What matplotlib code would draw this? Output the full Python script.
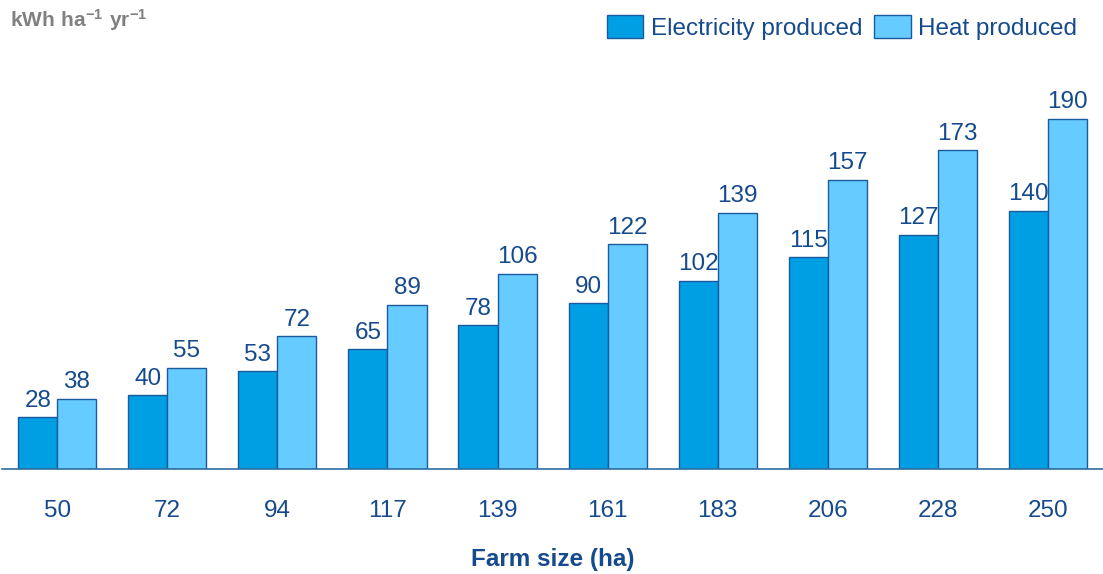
"""
Electricity and heat produced per hectare by farm size.
"""

import numpy as np
import matplotlib.pyplot as plt
from matplotlib.patches import Patch

farm_sizes = ["50", "72", "94", "117", "139", "161", "183", "206", "228", "250"]
electricity = [28, 40, 53, 65, 78, 90, 102, 115, 127, 140]
heat = [38, 55, 72, 89, 106, 122, 139, 157, 173, 190]

ELEC_COLOR = "#009fe3"
HEAT_COLOR = "#66ccff"
EDGE_COLOR = "#1b5a9c"
TEXT_COLOR = "#154a8c"
FS = 17.5

plt.rcParams["font.family"] = ["Liberation Sans", "DejaVu Sans"]
plt.rcParams["mathtext.fontset"] = "custom"
plt.rcParams["mathtext.rm"] = "Liberation Sans"
plt.rcParams["mathtext.bf"] = "Liberation Sans:bold"


def main():
    fig = plt.figure(figsize=(11.03, 5.74), dpi=100)
    ax = fig.add_axes([0.002, 0.183, 0.998, 0.642])

    x = np.arange(len(farm_sizes))
    w = 0.355
    b1 = ax.bar(x - w / 2, electricity, w, color=ELEC_COLOR, edgecolor=EDGE_COLOR, linewidth=1.0)
    b2 = ax.bar(x + w / 2, heat, w, color=HEAT_COLOR, edgecolor=EDGE_COLOR, linewidth=1.0)

    for bars in (b1, b2):
        ax.bar_label(bars, padding=4, fontsize=FS, color=TEXT_COLOR)

    ax.set_xlim(-0.5, len(farm_sizes) - 0.5)
    ax.set_ylim(0, 200)
    ax.set_xticks(x)
    ax.set_xticklabels(farm_sizes, fontsize=FS, color=TEXT_COLOR)
    ax.tick_params(axis="x", length=0, pad=22)
    ax.set_yticks([])
    for side in ("top", "right", "left"):
        ax.spines[side].set_visible(False)
    ax.spines["bottom"].set_color("#2e6da4")
    ax.spines["bottom"].set_linewidth(1.2)

    fig.text(0.5 * (0.002 + 1.0), 0.005, "Farm size (ha)", ha="center", va="bottom",
             fontsize=FS, fontweight="bold", color=TEXT_COLOR)
    fig.text(0.009, 0.965, r"$\mathbf{kWh\ ha^{-1}\ yr^{-1}}$", ha="left", va="center",
             fontsize=15, color="#808080")

    handles = [Patch(facecolor=ELEC_COLOR, edgecolor=EDGE_COLOR, label="Electricity produced"),
               Patch(facecolor=HEAT_COLOR, edgecolor=EDGE_COLOR, label="Heat produced")]
    fig.legend(handles=handles, loc="upper right", bbox_to_anchor=(0.992, 1.003), ncol=2,
               frameon=False, fontsize=FS, labelcolor=TEXT_COLOR, handlelength=1.5,
               handleheight=1.05, handletextpad=0.3, columnspacing=0.5, borderaxespad=0.3)

    plt.savefig("out.png", dpi=100)


if __name__ == "__main__":
    main()
